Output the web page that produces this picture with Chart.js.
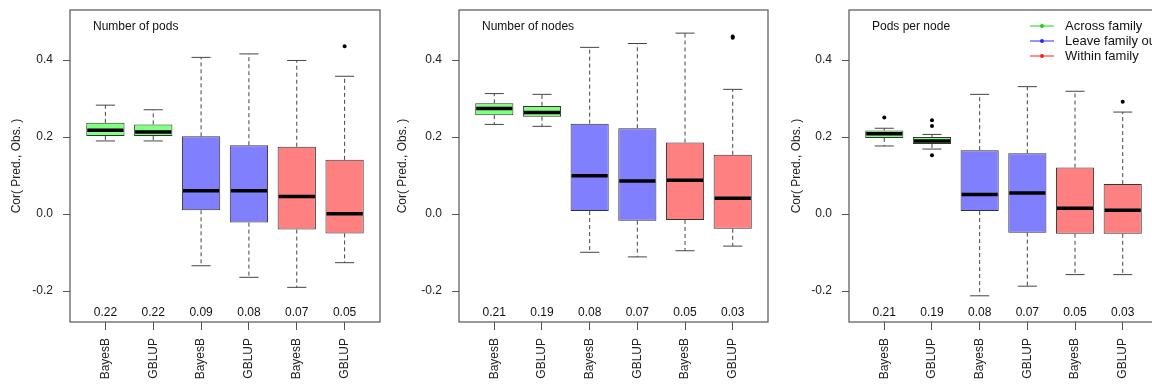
<!DOCTYPE html>
<html lang="en">
<head>
<meta charset="UTF-8">
<title>Cor(Pred., Obs.) by trait</title>
<script src="https://cdn.jsdelivr.net/npm/chart.js"></script>
<style>
  body {
    margin: 0;
    background: #fff;
    overflow: hidden;
    width: 1152px;
    height: 384px;
    position: relative;
  }
  canvas {
    position: absolute;
    top: 0;
  }
</style>
</head>
<body>
<canvas id="pods" width="384" height="384" style="left:0px"></canvas>
<canvas id="nodes" width="388" height="384" style="left:384px"></canvas>
<canvas id="ppn" width="390" height="384" style="left:772px"></canvas>
<script>
// categories
const methods = ['BayesB', 'GBLUP', 'BayesB', 'GBLUP', 'BayesB', 'GBLUP'];
const schemeOf = [0, 0, 1, 1, 2, 2];
const schemes = ['Across family', 'Leave family out', 'Within family'];
const yTicks = [-0.2, 0.0, 0.2, 0.4];

// Number of pods
const podsLow = [0.190, 0.190, -0.134, -0.164, -0.190, -0.126];
const podsQ1 = [0.203, 0.203, 0.010, -0.022, -0.040, -0.050];
const podsMedian = [0.218, 0.213, 0.061, 0.061, 0.046, 0.001];
const podsQ3 = [0.237, 0.233, 0.202, 0.179, 0.175, 0.141];
const podsHigh = [0.283, 0.271, 0.407, 0.416, 0.399, 0.358];
const podsOutliers = [[], [], [], [], [], [0.436]];
const podsMeans = ['0.22', '0.22', '0.09', '0.08', '0.07', '0.05'];

// Number of nodes
const nodesLow = [0.233, 0.228, -0.099, -0.111, -0.095, -0.083];
const nodesQ1 = [0.257, 0.253, 0.008, -0.017, -0.015, -0.038];
const nodesMedian = [0.274, 0.264, 0.100, 0.086, 0.088, 0.041];
const nodesQ3 = [0.288, 0.281, 0.235, 0.223, 0.186, 0.154];
const nodesHigh = [0.313, 0.311, 0.433, 0.443, 0.470, 0.324];
const nodesOutliers = [[], [], [], [], [], [0.458, 0.461]];
const nodesMeans = ['0.21', '0.19', '0.08', '0.07', '0.05', '0.03'];

// Pods per node
const ppnLow = [0.177, 0.169, -0.212, -0.187, -0.157, -0.157];
const ppnQ1 = [0.198, 0.182, 0.008, -0.048, -0.051, -0.051];
const ppnMedian = [0.209, 0.190, 0.051, 0.055, 0.015, 0.010];
const ppnQ3 = [0.217, 0.200, 0.166, 0.158, 0.121, 0.078];
const ppnHigh = [0.223, 0.207, 0.311, 0.331, 0.319, 0.265];
const ppnOutliers = [[0.251], [0.244, 0.229, 0.153], [], [], [], [0.292]];
const ppnMeans = ['0.21', '0.19', '0.08', '0.07', '0.05', '0.03'];

const fillColors = ['rgb(128,255,128)', 'rgb(128,128,255)', 'rgb(255,128,128)'];
const legendColors = ['#22cc22', '#2a2aff', '#ff2020'];
const FONT = 'Liberation Sans, Arial, sans-serif';

const boxParts = {
  id: 'boxParts',
  afterDatasetsDraw(chart, args, opts) {
    const ctx = chart.ctx;
    const xs = chart.scales.x, ys = chart.scales.y;
    const area = chart.chartArea;
    ctx.save();
    for (let i = 0; i < methods.length; i++) {
      const cx = xs.getPixelForValue(i + 1);
      const capL = xs.getPixelForValue(i + 0.8), capR = xs.getPixelForValue(i + 1.2);
      const boxL = xs.getPixelForValue(i + 0.6), boxR = xs.getPixelForValue(i + 1.4);
      // whiskers
      ctx.strokeStyle = '#444';
      ctx.lineWidth = 1;
      ctx.setLineDash([4, 3]);
      ctx.beginPath();
      ctx.moveTo(cx, ys.getPixelForValue(opts.q3[i]));
      ctx.lineTo(cx, ys.getPixelForValue(opts.high[i]));
      ctx.moveTo(cx, ys.getPixelForValue(opts.q1[i]));
      ctx.lineTo(cx, ys.getPixelForValue(opts.low[i]));
      ctx.stroke();
      ctx.setLineDash([]);
      ctx.beginPath();
      ctx.moveTo(capL, ys.getPixelForValue(opts.high[i]));
      ctx.lineTo(capR, ys.getPixelForValue(opts.high[i]));
      ctx.moveTo(capL, ys.getPixelForValue(opts.low[i]));
      ctx.lineTo(capR, ys.getPixelForValue(opts.low[i]));
      ctx.stroke();
      // median
      ctx.strokeStyle = '#000';
      ctx.lineWidth = 3.5;
      ctx.beginPath();
      ctx.moveTo(boxL + 1, ys.getPixelForValue(opts.median[i]));
      ctx.lineTo(boxR - 1, ys.getPixelForValue(opts.median[i]));
      ctx.stroke();
      // mean label
      ctx.fillStyle = '#111';
      ctx.font = '12px ' + FONT;
      ctx.textAlign = 'center';
      ctx.textBaseline = 'middle';
      ctx.fillText(opts.means[i], cx, ys.getPixelForValue(-0.255));
    }
    // frame
    ctx.strokeStyle = '#555';
    ctx.lineWidth = 1.2;
    ctx.strokeRect(area.left, area.top, area.right - area.left, area.bottom - area.top);
    // panel title
    ctx.fillStyle = '#111';
    ctx.textAlign = 'left';
    ctx.fillText(opts.title, area.left + 23, area.top + 17);
    // legend
    if (opts.legend) {
      ctx.font = '13px ' + FONT;
      schemes.forEach((s, k) => {
        const yy = area.top + 16 + k * 15;
        const x0 = area.left + 181;
        ctx.strokeStyle = legendColors[k];
        ctx.lineWidth = 1;
        ctx.beginPath();
        ctx.moveTo(x0, yy);
        ctx.lineTo(x0 + 24, yy);
        ctx.stroke();
        ctx.fillStyle = legendColors[k];
        ctx.beginPath();
        ctx.arc(x0 + 12, yy, 2, 0, Math.PI * 2);
        ctx.fill();
        ctx.fillStyle = '#111';
        ctx.fillText(s, x0 + 35, yy);
      });
    }
    ctx.restore();
  }
};

function makePanel(id, title, low, q1, median, q3, high, outliers, means, axisWidth, titlePad, rightPad, legend) {
  const boxes = methods.map((m, i) => ({ x: i + 1, y: [q1[i], q3[i]] }));
  const points = [];
  outliers.forEach((list, i) => list.forEach(v => points.push({ x: i + 1, y: v })));
  new Chart(document.getElementById(id), {
    type: 'bar',
    data: {
      datasets: [{
        data: boxes,
        backgroundColor: schemeOf.map(s => fillColors[s]),
        borderColor: '#333',
        borderWidth: 1,
        borderSkipped: false,
        categoryPercentage: 1,
        barPercentage: 0.8
      }, {
        type: 'scatter',
        data: points,
        backgroundColor: '#000',
        borderWidth: 0,
        pointRadius: 2
      }]
    },
    options: {
      responsive: false,
      animation: false,
      layout: { padding: { top: 10, right: rightPad, left: 0, bottom: 0 } },
      plugins: {
        legend: { display: false },
        tooltip: { enabled: false },
        boxParts: { title, low, q1, median, q3, high, means, legend }
      },
      scales: {
        x: {
          type: 'linear',
          min: 0.26,
          max: 6.74,
          offset: false,
          afterBuildTicks: s => { s.ticks = methods.map((m, i) => ({ value: i + 1 })); },
          afterFit: s => { s.height = 62; s.paddingLeft = 0; s.paddingRight = 0; },
          grid: { drawOnChartArea: false, offset: false, color: '#555', tickLength: 8 },
          border: { display: false },
          ticks: {
            autoSkip: false,
            minRotation: 90,
            maxRotation: 90,
            padding: 8,
            color: '#222',
            font: { family: FONT, size: 12 },
            callback: v => methods[v - 1]
          }
        },
        y: {
          min: -0.28,
          max: 0.53,
          afterBuildTicks: s => { s.ticks = yTicks.map(v => ({ value: v })); },
          afterFit: s => { s.width = axisWidth; s.paddingTop = 0; s.paddingBottom = 0; },
          grid: { drawOnChartArea: false, color: '#555', tickLength: 7 },
          border: { display: false },
          ticks: {
            padding: 10,
            color: '#222',
            font: { family: FONT, size: 12 },
            callback: v => v.toFixed(1)
          },
          title: {
            display: true,
            text: 'Cor( Pred., Obs. )',
            color: '#222',
            font: { family: FONT, size: 12 },
            padding: { top: titlePad, bottom: 0 }
          }
        }
      }
    },
    plugins: [boxParts]
  });
}

makePanel('pods', 'Number of pods', podsLow, podsQ1, podsMedian, podsQ3, podsHigh, podsOutliers, podsMeans, 70, 9, 1, false);
makePanel('nodes', 'Number of nodes', nodesLow, nodesQ1, nodesMedian, nodesQ3, nodesHigh, nodesOutliers, nodesMeans, 75, 11, 2, false);
makePanel('ppn', 'Pods per node', ppnLow, ppnQ1, ppnMedian, ppnQ3, ppnHigh, ppnOutliers, ppnMeans, 77, 17, 0, true);
</script>
</body>
</html>
